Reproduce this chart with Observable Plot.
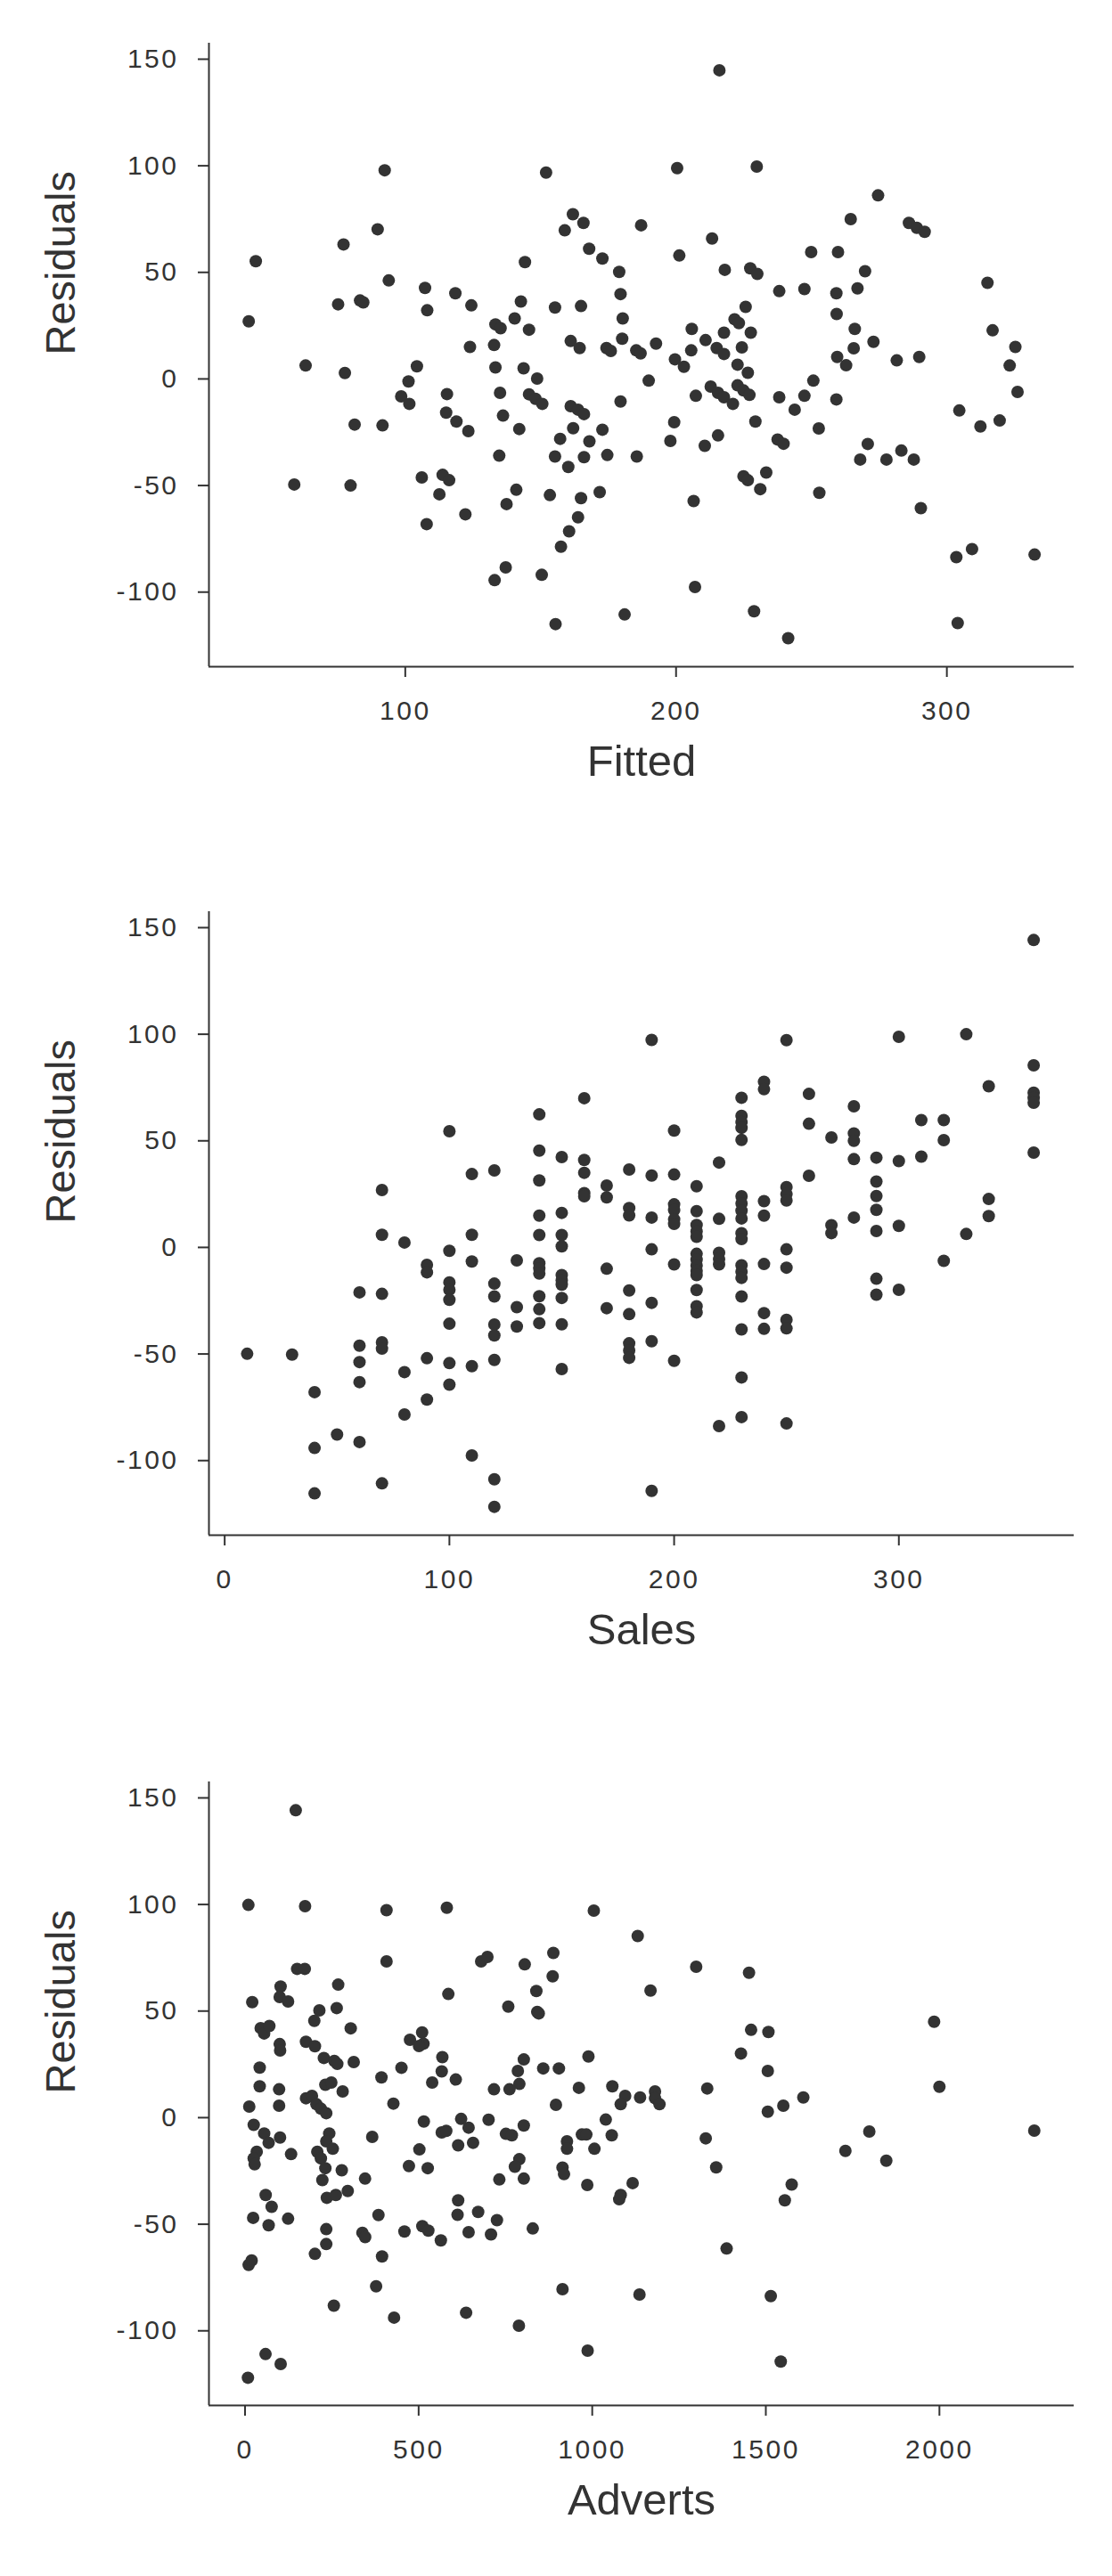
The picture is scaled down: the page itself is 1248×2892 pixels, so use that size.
<!DOCTYPE html>
<html>
<head>
<meta charset="utf-8">
<script src="https://cdn.jsdelivr.net/npm/d3@7"></script>
<script src="https://cdn.jsdelivr.net/npm/@observablehq/plot@0.6"></script>
<style>
  html, body { margin: 0; padding: 0; background: #ffffff; }
  #chart { width: 1248px; }
  #chart svg { display: block; }
  #chart g[aria-label="x-axis tick"], #chart g[aria-label="y-axis tick"] { stroke-width: 2px; }
  #chart g[aria-label*="tick label"] text { font-size: 30px; letter-spacing: 2.5px; }
</style>
</head>
<body>
<div id="chart"></div>
<script>
// ---------- Data ----------
const residualTicks = [-100, -50, 0, 50, 100, 150];

// Panel 1: Fitted vs Residuals
const fitted = [42.2,44.8,59.0,63.2,75.2,77.2,77.7,79.8,81.3,83.3,84.5,89.8,92.4,91.6,93.9,98.5,101.5,101.2,104.3,106.1,107.3,108.1,107.9,155.5,181.0,216.0,228.8,241.4,
152.0,200.4,229.8,161.9,165.8,158.9,187.1,264.5,213.3,167.9,
172.8,144.2,201.2,249.9,259.8,179.0,218.0,227.4,230.0,118.5,
124.4,142.7,155.3,164.9,179.5,238.1,247.4,259.2,267.0,140.4,
133.3,135.2,145.7,180.3,225.7,221.6,223.2,259.3,205.8,217.7,
227.6,266.0,123.9,132.8,161.1,164.4,180.1,174.3,175.9,185.3,
186.9,192.6,210.9,205.6,215.0,217.7,224.3,265.6,133.3,143.7,
148.7,199.6,202.9,222.7,226.5,259.5,262.8,189.9,115.4,135.0,
145.7,148.1,150.6,179.5,207.3,212.8,215.5,217.7,221.0,222.7,
224.9,227.1,238.1,247.4,250.7,243.8,259.2,115.1,118.9,123.3,
136.1,142.1,161.1,163.8,166.0,162.0,172.8,157.2,168.0,199.3,
197.9,229.3,215.5,210.6,237.5,239.7,252.7,134.7,155.3,166.0,
174.6,185.5,160.2,113.8,116.2,112.6,141.0,137.4,153.4,164.9,
171.8,122.2,163.8,160.5,157.5,224.9,226.5,233.3,231.1,252.9,
206.5,137.1,133.0,150.4,207.0,
274.6,286.0,288.9,291.8,269.8,272.9,281.5,289.8,315.0,316.9,325.3,323.2,326.1,304.6,312.4,319.5,270.8,268.0,277.7,283.2,287.8,290.4,303.5,309.3,332.4,304.0];
const residFitted = [27.0,55.2,-49.5,6.3,35.0,63.1,2.8,-50.0,-21.4,36.8,35.9,70.2,97.9,-21.8,46.2,-8.2,-11.7,-1.2,5.9,-46.2,42.7,32.2,-68.1,-115.0,-110.5,144.8,-109.0,-121.6,
96.8,98.9,99.6,77.3,73.2,69.7,72.1,75.0,65.9,61.1,
56.5,54.8,57.9,59.5,59.5,50.2,51.2,51.9,49.3,40.2,
34.5,36.3,33.5,34.2,39.8,41.2,42.2,40.2,42.5,28.4,
25.6,23.8,23.1,28.4,33.8,28.0,26.2,30.5,23.5,21.7,
21.7,23.5,15.0,15.9,17.8,14.5,18.9,14.5,13.1,13.4,
12.0,16.6,18.2,13.4,14.5,11.7,14.8,14.4,5.4,5.0,
0.2,9.2,5.7,6.7,2.9,10.3,6.4,-0.8,-7.1,-6.5,
-7.2,-9.3,-11.7,-10.6,-7.9,-3.6,-6.5,-8.6,-11.7,-3.0,
-5.4,-7.5,-8.6,-7.9,-0.8,-14.4,-9.6,-15.8,-20.0,-24.5,
-17.2,-23.5,-12.8,-14.4,-16.5,-23.1,-23.8,-28.1,-29.3,-20.3,
-29.1,-20.0,-26.5,-31.4,-28.4,-30.4,-23.2,-36.0,-36.4,-36.7,
-35.7,-36.4,-41.3,-45.0,-47.5,-54.1,-52.0,-58.7,-54.5,-55.9,
-53.1,-63.5,-64.9,-71.5,-78.7,-45.7,-47.5,-43.9,-51.7,-53.4,
-57.3,-88.4,-94.4,-91.9,-97.6,
86.1,73.2,70.9,69.0,50.5,17.4,8.7,10.3,45.1,22.8,15.0,6.3,-6.1,-14.8,-22.3,-19.5,-30.5,-37.8,-37.8,-33.6,-37.8,-60.6,-83.6,-79.8,-82.4,-114.5];
const fittedTicks = [100, 200, 300];

// Panel 2: Sales vs Residuals
const sales = [10,30,40,40,40,50,60,60,60,60,60,70,70,70,70,70,70,80,80,80,90,90,90,90,
100,100,100,100,100,100,100,100,110,110,110,110,110,
120,120,120,120,120,120,120,120,130,130,130,
140,140,140,140,140,140,140,140,140,140,140,
150,150,150,150,150,150,150,150,150,150,
160,160,160,160,160,170,170,170,170,
180,180,180,180,180,180,180,180,
190,190,190,190,190,190,190,
200,200,200,200,200,200,200,200,
210,210,210,210,210,210,210,210,210,210,210,210,210,
220,220,220,220,220,220,
230,230,230,230,230,230,230,230,230,230,230,230,230,230,230,230,230,230,
240,240,240,240,240,240,240,
250,250,250,250,250,250,250,250,250,
260,260,260,270,270,270,280,280,280,280,280,
290,290,290,290,290,290,290,300,300,300,300,
310,310,320,320,320,330,330,340,340,340,
360,360,360,360,360,360];
const residSales = [-49.9,-50.3,-67.9,-94.1,-115.4,-87.8,-21.1,-46.1,-53.8,-63.2,-91.3,26.9,5.9,-21.8,-44.5,-47.5,-110.7,2.3,-58.5,-78.4,-8.2,-11.7,-52.0,-71.4,
54.5,-1.6,-16.4,-19.9,-24.6,-35.8,-54.3,-64.4,34.4,5.9,-6.6,-55.7,-97.6,
36.1,-17.0,-23.0,-36.2,-41.3,-52.8,-108.8,-121.7,-6.1,-28.0,-37.1,
62.4,45.4,31.4,14.9,5.8,-7.4,-9.9,-12.3,-22.9,-29.0,-35.5,
42.4,16.2,5.8,0.5,-13.0,-15.5,-17.5,-23.7,-36.1,-57.1,
70.0,41.0,35.0,25.5,24.0,29.0,23.5,-10.0,-28.5,
36.5,18.5,15.0,-20.2,-31.3,-45.0,-48.3,-51.8,
97.3,33.7,14.0,-0.9,-26.0,-44.0,-114.2,
54.8,34.2,20.2,17.5,13.2,11.0,-8.0,-53.2,
28.7,17.0,10.5,7.5,5.0,-3.0,-5.8,-8.5,-11.0,-13.0,-20.0,-27.6,-30.5,
39.8,13.4,-2.5,-5.5,-8.0,-83.8,
70.2,61.7,58.8,56.1,50.4,24.0,20.7,17.2,13.6,6.7,3.9,-8.4,-11.4,-14.3,-23.0,-38.5,-61.0,-79.6,
77.7,74.2,21.7,14.9,-7.8,-30.8,-38.2,
97.2,28.3,25.0,22.0,-0.9,-9.5,-34.0,-38.0,-82.6,
72.0,58.0,33.6,51.6,10.4,6.7,66.2,53.5,50.0,41.4,14.0,
42.1,30.9,24.1,17.6,7.7,-14.7,-22.2,98.8,40.5,10.1,-19.9,
59.7,42.6,59.7,50.3,-6.3,100.0,6.3,75.6,22.7,14.7,
144.2,85.4,72.6,70.2,67.9,44.5];
const salesTicks = [0, 100, 200, 300];

// Panel 3: Adverts vs Residuals
const adverts = [146,8.3,59,102.6,255.8,429.2,636.7,788.8,986.8,1543,
9.6,172.9,407.5,581.2,680.0,698.1,805.5,150.0,172.0,407.5,
268.3,102.4,99.8,123.9,20.7,585.5,758.2,839.0,841.6,846.0,
264.0,214.1,199.5,304.4,45,55,70,475,510,514,
501,99.8,101,175.5,201.3,227.0,257.1,265.7,313.0,42.2,
450.5,568.3,566.5,607.0,539.0,392.9,802.9,785.7,790.1,761.7,
717.0,858.8,42.2,98.1,98.1,231.3,248.5,281.2,12.1,175.5,
192.7,205.5,218.4,233.9,427.3,25.0,55.1,68.0,100.8,132.6,
33.6,25.0,27.6,242.5,233.9,252.8,208.1,218.4,231.3,222.7,
278.6,345.7,366.3,235.6,261.4,295.8,59.4,76.6,23.3,68.0,
123.9,233.9,233.9,201.3,10.4,19.0,338,346,384.3,394.6,
377.5,459.1,510.7,527.9,564.0,613.8,612.1,671.4,643.9,725.6,
708.4,828.7,515.0,566.5,579.5,622.4,643.9,701.5,613.8,656.8,
751.4,768.5,802.9,502.1,472.0,526.2,790.0,777.2,732.4,802.9,
888,886,1004.6,1131,1299.4,1451.6,1167.9,1457.6,1507.5,1428.4,
1505.7,989.1,904,961.6,1057.9,895.5,1094.9,1082,1137.8,1180.8,
1180.8,1193.7,1331.2,1505.7,1550.4,1608,1039,970.2,983,1056.2,
927.3,927.3,1006.3,1327,914.4,918.7,1357,985.7,1116.4,1082,
1077.7,1574.5,1554.7,1729.2,1798,1847,1387.1,914.4,1136.1,1514.3,
1984.7,2000,2273.2];
const residAdverts = [144.2,-122,-110.9,-115.6,-88.2,-93.8,-91.5,-97.6,-109.3,-114.4,
99.8,99.2,97.3,98.5,73.3,75.4,71.9,69.8,69.8,73.3,
62.4,61.5,56.6,54.5,54.2,58.0,52.1,59.4,49.6,48.9,
51.4,50.3,45.4,41.9,42,39.5,43,36.5,40,34.7,
33.6,34.5,31.5,35.6,33.5,28.0,26.6,25.2,26.1,23.5,
23.4,28.4,21.7,17.9,16.5,18.9,27.3,21.9,15.8,13.3,
13.3,23.1,14.7,13.3,5.6,15.4,16.5,12.3,5.2,9.1,
10.2,6.3,4.2,2.1,6.6,-3.4,-7.4,-11.8,-9.3,-17.1,
-16.0,-19.1,-21.9,-7.4,-11.1,-14.6,-16.0,-19.1,-23.7,-29.3,
-24.7,-28.6,-9.0,-37.6,-36.3,-34.4,-36.3,-41.8,-47.0,-50.5,
-47.4,-52.3,-59.3,-63.9,-69.1,-67.0,-54,-56,-45.7,-65.1,
-79.1,-53.4,-50.9,-53.0,-57.6,-38.8,-45.6,-44.2,-53.7,-48.1,
-54.8,-52.0,-1.8,-6.9,-6.2,-0.6,-4.7,-1.0,-13.0,-11.8,
-7.6,-8.3,-3.7,-14.9,-22.7,-23.7,-19.5,-23.0,-29.0,-28.6,
77.3,66.3,97.1,85.2,70.8,68.0,59.6,41.2,40.2,30.1,
21.9,28.7,23.1,14.0,14.7,6.0,10.2,6.3,9.5,12.3,
9.1,6.3,13.7,2.8,5.6,9.5,-0.9,-7.9,-7.9,-8.3,
-11.1,-14.6,-14.6,-9.7,-23.4,-26.5,-23.3,-31.6,-30.7,-36.3,
-38.3,-31.4,-38.8,-15.6,-6.5,-20.2,-61.4,-80.5,-83.0,-83.7,
45.0,14.5,-6.1];
const advertsTicks = [0, 500, 1000, 1500, 2000];

// ---------- Drawing ----------
const INK = "#333333";
const FONT = "'Liberation Sans', Arial, Helvetica, sans-serif";
const yDomain = [-135, 157.5];
const plainNumber = d => String(d);

function panel({xs, ys, xDomain, xTicks, xLabel, height, marginTop, marginBottom}) {
  const rows = xs.map((v, i) => ({x: v, y: ys[i]}));
  return Plot.plot({
    width: 1248,
    height,
    marginLeft: 234,
    marginRight: 43,
    marginTop,
    marginBottom,
    style: {background: "#ffffff", color: INK, fontFamily: FONT, fontSize: "30px", overflow: "visible"},
    x: {domain: xDomain, ticks: xTicks, tickFormat: plainNumber, tickSize: 12, tickPadding: 26, label: null},
    y: {domain: yDomain, ticks: residualTicks, tickFormat: plainNumber, tickSize: 12, tickPadding: 22, label: null},
    marks: [
      Plot.ruleX([xDomain[0]], {stroke: INK, strokeWidth: 2}),
      Plot.ruleY([yDomain[0]], {stroke: INK, strokeWidth: 2}),
      Plot.dot(rows, {x: "x", y: "y", r: 7, fill: INK, stroke: "none"}),
      Plot.text([xLabel], {frameAnchor: "bottom", dy: 122, fontSize: 49, fill: INK, fontFamily: FONT}),
      Plot.text(["Residuals"], {frameAnchor: "left", dx: -166, rotate: -90, fontSize: 47, fill: INK, fontFamily: FONT})
    ]
  });
}

const chart = document.getElementById("chart");
chart.appendChild(panel({xs: fitted, ys: residFitted, xDomain: [27.5, 347], xTicks: fittedTicks, xLabel: "Fitted", height: 975, marginTop: 48, marginBottom: 227}));
chart.appendChild(panel({xs: sales, ys: residSales, xDomain: [-7, 378], xTicks: salesTicks, xLabel: "Sales", height: 975, marginTop: 48, marginBottom: 227}));
chart.appendChild(panel({xs: adverts, ys: residAdverts, xDomain: [-104, 2388], xTicks: advertsTicks, xLabel: "Adverts", height: 942, marginTop: 50, marginBottom: 192}));
</script>
</body>
</html>
